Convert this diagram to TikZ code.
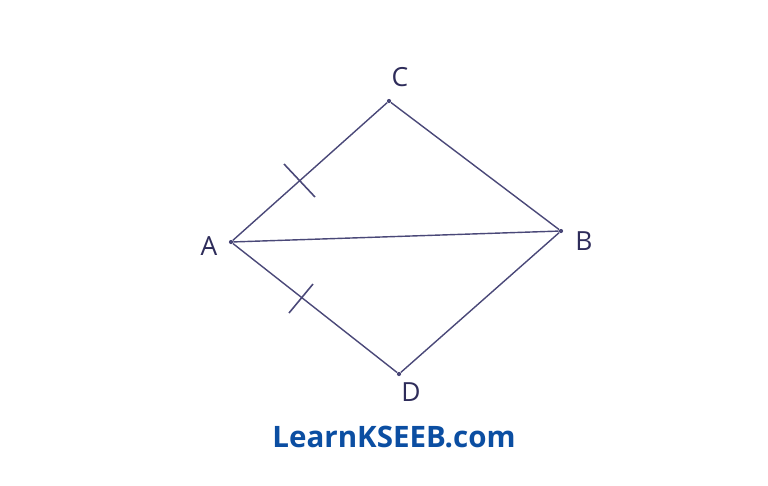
\documentclass[tikz,border=0pt]{standalone}
\usepackage{fontspec}
\setmainfont{Open Sans}
\usetikzlibrary{calc}
\definecolor{inkline}{HTML}{4A4878}
\definecolor{inktext}{HTML}{2E2C5A}
\definecolor{siteblue}{HTML}{0B4EA2}

\begin{document}
\begin{tikzpicture}[x=0.02cm,y=-0.02cm,
  vertex/.style={circle,fill=inkline,inner sep=0pt,minimum size=2.4pt},
  lbl/.style={text=inktext,font=\fontsize{15}{15}\selectfont},
  side/.style={draw=inkline,line width=0.8pt},
  tick/.style={draw=inkline,line width=0.9pt}]
\useasboundingbox (0,0) rectangle (768,485);

% define the points
  \node[vertex] (A) at (231,242) {};
  \node[vertex] (C) at (389,101) {};
  \node[vertex] (B) at (561,231) {};
  \node[vertex] (D) at (399,374) {};

% labels
  \node[lbl] (lA) at (209,246) {A};
  \node[lbl] (lC) at (400,77) {C};
  \node[lbl] (lB) at (584,241) {B};
  \node[lbl] (lD) at (411,392) {D};

% define the sides
  \path[side] (A) edge (C)
        (C) edge (B)
        (A) edge (B)
        (A) edge (D)
        (D) edge (B);

% equal-side marks
  \coordinate (t1a) at (284,164);
  \coordinate (t1b) at (315,197);
  \coordinate (t2a) at (313,284);
  \coordinate (t2b) at (289,313);
  \path[tick] (t1a) edge (t1b)
        (t2a) edge (t2b);

  \node[text=siteblue,font=\fontsize{16.8}{17}\selectfont\bfseries] (site) at (394,437) {LearnKSEEB.com};
\end{tikzpicture}
\end{document}
